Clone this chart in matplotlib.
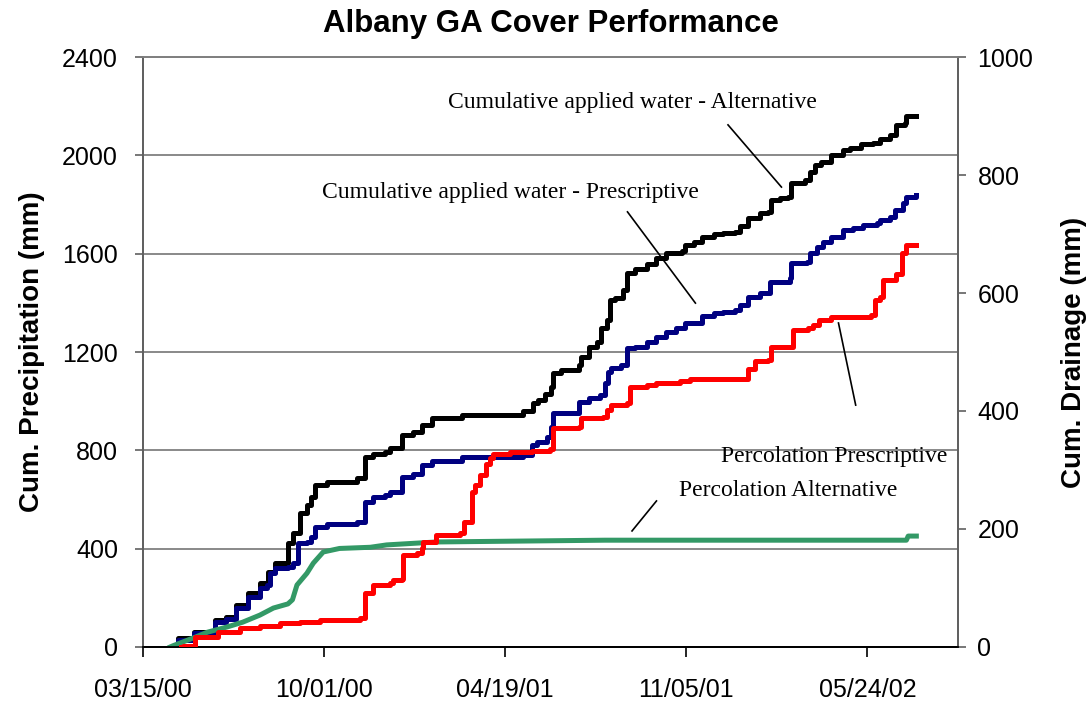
import numpy as np
import pandas as pd
import matplotlib
matplotlib.use("Agg")
import matplotlib.pyplot as plt
import matplotlib.dates as mdates

plt.rcParams['font.family'] = ['Liberation Sans', 'DejaVu Sans']

# days after 03/15/00 and cumulative values (mm)
start = pd.Timestamp("2000-03-15")

alt_days = [35, 37, 39, 56, 79, 92, 103, 116, 129, 138, 146, 160, 166, 173, 181, 186, 190, 203,
            236, 245, 254, 267, 273, 286, 298, 308, 319, 352, 420, 431, 436, 444, 451, 453, 462,
            481, 484, 492, 501, 506, 512, 516, 521, 530, 534, 543, 556, 567, 578, 595, 598, 608,
            617, 630, 641, 654, 659, 668, 681, 690, 694, 703, 712, 716, 731, 736, 742, 749, 760,
            773, 781, 793, 806, 814, 825, 832, 841, 843, 854]
alt_water = [0, 8, 37, 61, 110, 122, 171, 220, 260, 305, 342, 423, 464, 545, 578, 610, 659, 671,
             688, 774, 785, 793, 810, 862, 876, 903, 932, 944, 961, 993, 1005, 1029, 1059, 1116, 1127,
             1147, 1181, 1219, 1242, 1296, 1330, 1412, 1419, 1452, 1523, 1536, 1558, 1581, 1604, 1612, 1635, 1649,
             1669, 1679, 1683, 1690, 1713, 1744, 1764, 1771, 1818, 1825, 1832, 1889, 1900, 1934, 1961, 1974, 2001,
             2022, 2029, 2045, 2049, 2065, 2083, 2124, 2130, 2160, 2160]

pre_days = [35, 37, 39, 56, 79, 92, 103, 116, 129, 137, 140, 146, 160, 166, 171, 181, 186, 190, 203,
            236, 245, 254, 267, 273, 286, 298, 308, 319, 352, 420, 429, 435, 446, 451, 453, 481, 482,
            493, 505, 510, 514, 517, 528, 534, 543, 556, 567, 578, 589, 598, 617, 630, 641, 654, 659,
            668, 681, 692, 714, 716, 733, 736, 744, 751, 760, 773, 784, 795, 810, 814, 825, 830, 839,
            843, 854]
pre_water = [0, 5, 30, 55, 100, 115, 160, 205, 239, 252, 300, 320, 327, 340, 422, 428, 449, 489, 499,
             510, 591, 611, 618, 632, 693, 704, 740, 757, 774, 781, 822, 835, 856, 896, 951, 964, 998,
             1012, 1025, 1073, 1120, 1133, 1147, 1215, 1222, 1242, 1262, 1283, 1296, 1317, 1347, 1358, 1364, 1371, 1391,
             1425, 1441, 1486, 1500, 1561, 1567, 1602, 1628, 1649, 1669, 1696, 1703, 1717, 1723, 1737, 1750, 1778, 1805,
             1832, 1839]

perc_pre_days = [42, 44, 57, 83, 107, 129, 151, 173, 195, 240, 245, 254, 273, 276, 286, 287, 302, 308,
                 309, 324, 350, 354, 359, 363, 367, 372, 379, 383, 387, 405, 429, 449, 453, 481, 484, 508,
                 512, 517, 534, 538, 556, 567, 593, 604, 661, 668, 676, 690, 694, 716, 718, 734, 740, 747,
                 760, 804, 808, 814, 817, 832, 838, 843, 854]
perc_pre = [0, 2, 17, 26, 32, 36, 40, 43, 46, 49, 91, 105, 108, 114, 116, 156, 160, 167,
            178, 190, 193, 211, 212, 263, 275, 292, 311, 320, 327, 330, 333, 335, 371, 373, 388, 390,
            402, 410, 413, 441, 444, 447, 451, 455, 455, 472, 484, 486, 509, 509, 538, 540, 546, 554,
            560, 563, 588, 593, 622, 633, 667, 681, 681]

perc_alt_days = [30, 33, 55, 71, 93, 110, 129, 144, 160, 165, 170, 181, 188, 199, 217, 251, 269, 324,
                 510, 843, 845, 854]
perc_alt = [0, 2, 15, 25, 34, 42, 54, 66, 73, 80, 105, 125, 142, 161, 167, 169, 173, 178,
            181, 181, 188, 188]

tick_days = [0, 200, 400, 600, 800]


def to_dates(d):
    return start + pd.to_timedelta(d, unit="D")


fig = plt.figure(figsize=(10.91, 7.04), dpi=100)
ax = fig.add_axes([0.1311, 0.081, 0.7470, 0.838])
ax2 = ax.twinx()

lw = 3.6
ax.plot(to_dates(alt_days), alt_water, color='black', lw=lw, drawstyle='steps-post', zorder=3)
ax.plot(to_dates(pre_days), pre_water, color='#000080', lw=lw, drawstyle='steps-post', zorder=3)
ax2.plot(to_dates(perc_pre_days), perc_pre, color='#ff0000', lw=lw, drawstyle='steps-post', zorder=3)
ax2.plot(to_dates(perc_alt_days), perc_alt, color='#339966', lw=lw, zorder=2)

ax.set_xlim(start, start + pd.Timedelta(days=900))
ax.set_ylim(0, 2400)
ax2.set_ylim(0, 1000)
ax.set_yticks(np.arange(0, 2401, 400))
ax2.set_yticks(np.arange(0, 1001, 200))
ax.set_xticks(to_dates(tick_days))
ax.xaxis.set_major_formatter(mdates.DateFormatter('%m/%d/%y'))

ax.grid(axis='y', color='#808080', lw=1.3)
ax.set_axisbelow(True)
for a in (ax, ax2):
    for s in a.spines.values():
        s.set_color('#606060')
        s.set_linewidth(1.3)
    a.spines['top'].set_color('#808080')
    a.spines['bottom'].set_color('black')
ax.tick_params(axis='y', labelsize=18, length=6, width=1.2, pad=12, colors='#606060', labelcolor='black')
ax2.tick_params(axis='y', labelsize=18, length=6, width=1.2, pad=8, colors='#606060', labelcolor='black')
ax.tick_params(axis='x', labelsize=18, length=7, width=1.2, pad=15)

ax.set_ylabel('Cum. Precipitation (mm)', fontsize=20, fontweight='bold', labelpad=12)
ax2.set_ylabel('Cum. Drainage (mm)', fontsize=20, fontweight='bold', labelpad=20)
ax.set_title('Albany GA Cover Performance', fontsize=22.5, fontweight='bold', pad=18)

serif = ['Liberation Serif', 'DejaVu Serif']
notes = [
    ('Cumulative applied water - Alternative', 540, 2213),
    ('Cumulative applied water - Prescriptive', 406, 1847),
    ('Percolation Prescriptive', 763, 773),
    ('Percolation Alternative', 712, 635),
]
for txt, d, v in notes:
    ax.text(start + pd.Timedelta(days=d), v, txt, family=serif, fontsize=17,
            ha='center', va='center', zorder=5)

leaders = [
    (646, 2124, 705, 1871),
    (535, 1770, 610, 1399),
    (768, 1318, 787, 984),
    (567, 594, 540, 472),
]
for d0, v0, d1, v1 in leaders:
    ax2.plot(to_dates([d0, d1]), [v0 / 2.4, v1 / 2.4], color='black', lw=1.2, zorder=6)

fig.savefig('out.png', dpi=100)
